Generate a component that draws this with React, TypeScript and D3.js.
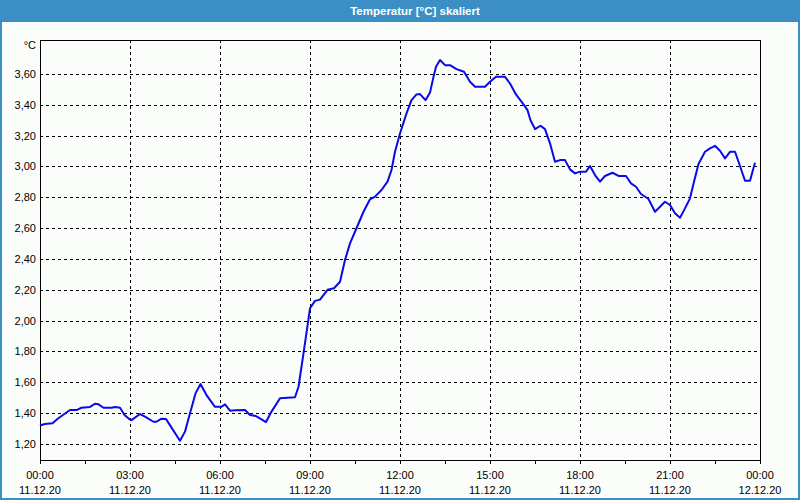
import React from "react";
import * as d3 from "d3";

const minutes: number[] = [
  0, 10, 25, 36, 60, 73, 83, 100, 110, 117, 127, 143, 150, 160, 169, 179, 183, 200, 210, 227,
  233, 243, 252, 263, 280, 290, 300, 311, 321, 333, 350, 363, 370, 380, 390, 410, 420, 432, 443, 452,
  463, 480, 510, 517, 527, 540, 550, 560, 575, 588, 600, 610, 620, 633, 647, 660, 670, 683, 695, 703,
  710, 720, 733, 743, 753, 760, 771, 780, 787, 792, 800, 810, 820, 833, 848, 860, 870, 890, 900, 912,
  930, 940, 952, 967, 975, 981, 990, 1001, 1010, 1020, 1030, 1040, 1050, 1060, 1070, 1080, 1092, 1100, 1110, 1120,
  1130, 1145, 1157, 1172, 1182, 1192, 1202, 1217, 1230, 1250, 1260, 1270, 1280, 1290, 1300, 1308, 1317, 1330, 1340, 1350,
  1360, 1370, 1380, 1390, 1400, 1410, 1420, 1430,
];

const temps: number[] = [
  1.32, 1.33, 1.334, 1.365, 1.42, 1.42, 1.435, 1.44, 1.461, 1.457, 1.435, 1.435, 1.44, 1.435, 1.388, 1.36, 1.355, 1.394, 1.377, 1.344,
  1.344, 1.364, 1.362, 1.306, 1.221, 1.28, 1.399, 1.528, 1.589, 1.517, 1.441, 1.441, 1.457, 1.416, 1.418, 1.42, 1.388, 1.381, 1.36, 1.342,
  1.41, 1.496, 1.503, 1.571, 1.788, 2.08, 2.128, 2.136, 2.2, 2.21, 2.252, 2.393, 2.501, 2.599, 2.706, 2.787, 2.804, 2.847, 2.901, 2.977,
  3.095, 3.214, 3.344, 3.43, 3.467, 3.469, 3.43, 3.48, 3.581, 3.646, 3.69, 3.657, 3.657, 3.631, 3.614, 3.549, 3.517, 3.517, 3.549, 3.581,
  3.581, 3.538, 3.467, 3.402, 3.365, 3.3, 3.242, 3.264, 3.242, 3.15, 3.03, 3.041, 3.041, 2.981, 2.955, 2.966, 2.966, 3.003, 2.944, 2.901,
  2.938, 2.959, 2.938, 2.938, 2.89, 2.868, 2.821, 2.789, 2.706, 2.771, 2.75, 2.696, 2.667, 2.728, 2.793, 2.901, 3.016, 3.095, 3.117, 3.134,
  3.102, 3.052, 3.095, 3.095, 3.003, 2.907, 2.907, 3.024,
];

const yTicks: number[] = [1.2, 1.4, 1.6, 1.8, 2.0, 2.2, 2.4, 2.6, 2.8, 3.0, 3.2, 3.4, 3.6];
const xTickHours: number[] = [0, 3, 6, 9, 12, 15, 18, 21, 24];
const xTimeLabels: string[] = ["00:00", "03:00", "06:00", "09:00", "12:00", "15:00", "18:00", "21:00", "00:00"];
const xDateLabels: string[] = ["11.12.20", "11.12.20", "11.12.20", "11.12.20", "11.12.20", "11.12.20", "11.12.20", "11.12.20", "12.12.20"];
const minorTickHours: number[] = d3.range(0, 24.01, 1.5);

const title = "Temperatur [°C] skaliert";
const unit = "°C";

export default function App() {
  const W = 800, H = 500;
  const L = 40, R = 760, T = 40, B = 460;
  const x = d3.scaleLinear().domain([0, 24]).range([L, R]);
  const y = d3.scaleLinear().domain([1.096, 3.82]).range([B, T]);
  const pts: [number, number][] = minutes.map((m, i) => [m / 60, temps[i]]);
  const line = d3.line<[number, number]>().x((d) => x(d[0])).y((d) => y(d[1]));
  const font = "'Liberation Sans', Arial, sans-serif";
  const blue = "#3b8fc5";

  return (
    <svg width={W} height={H} style={{ position: "absolute", left: 0, top: 0, display: "block" }}
      fontFamily={font}>
      <rect x={0} y={0} width={W} height={H} fill="#fbfdfb" />
      <rect x={0} y={0} width={W} height={21} fill={blue} />
      <text x={415} y={14.5} fill="#ffffff" fontSize={11.5} fontWeight="bold" textAnchor="middle">{title}</text>
      <rect x={1} y={21} width={W - 2} height={H - 22} fill="none" stroke={blue} strokeWidth={2} />

      {/* grid */}
      {yTicks.map((v) => (
        <line key={"gy" + v} x1={L} x2={R} y1={Math.round(y(v)) + 0.5} y2={Math.round(y(v)) + 0.5}
          stroke="#000" strokeWidth={1} strokeDasharray="3,3" />
      ))}
      {xTickHours.slice(1, -1).map((h) => (
        <line key={"gx" + h} x1={Math.round(x(h)) + 0.5} x2={Math.round(x(h)) + 0.5} y1={T} y2={B}
          stroke="#000" strokeWidth={1} strokeDasharray="3,3" />
      ))}

      {/* plot border */}
      <rect x={L + 0.5} y={T + 0.5} width={R - L} height={B - T} fill="none" stroke="#000" strokeWidth={1} />

      {/* minor ticks */}
      {minorTickHours.map((h) => (
        <line key={"mt" + h} x1={Math.round(x(h)) + 0.5} x2={Math.round(x(h)) + 0.5} y1={B} y2={B + 4}
          stroke="#000" strokeWidth={1} />
      ))}

      {/* y labels */}
      {yTicks.map((v) => (
        <text key={"yl" + v} x={36} y={y(v) + 4} fontSize={11} textAnchor="end" fill="#000">
          {d3.format(".2f")(v).replace(".", ",")}
        </text>
      ))}
      <text x={36} y={49} fontSize={11} textAnchor="end" fill="#000">{unit}</text>

      {/* x labels */}
      {xTickHours.map((h, i) => (
        <g key={"xl" + h}>
          <text x={x(h)} y={479} fontSize={11} textAnchor="middle" fill="#000">{xTimeLabels[i]}</text>
          <text x={x(h)} y={494} fontSize={11} textAnchor="middle" fill="#000">{xDateLabels[i]}</text>
        </g>
      ))}

      <path d={line(pts) || ""} fill="none" stroke="#0a0ae8" strokeWidth={2} strokeLinejoin="round" />
    </svg>
  );
}
